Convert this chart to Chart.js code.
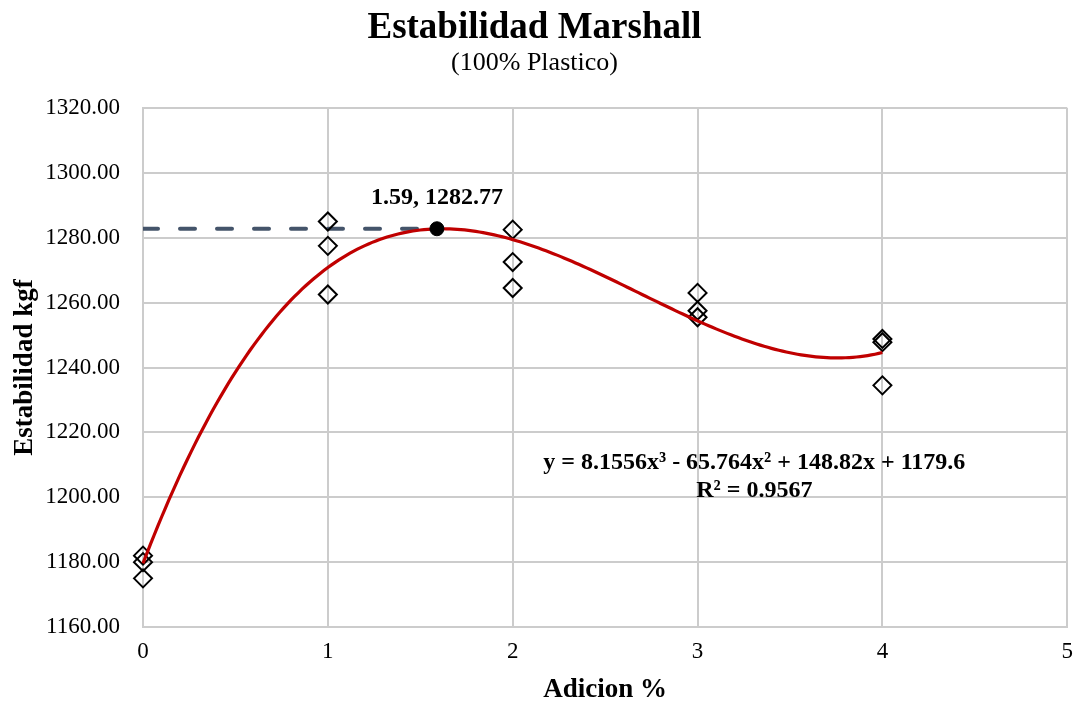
<!DOCTYPE html>
<html lang="es">
<head>
<meta charset="utf-8">
<title>Estabilidad Marshall</title>
<script src="https://cdn.jsdelivr.net/npm/chart.js@4.4.1/dist/chart.umd.min.js"></script>
<style>
  html, body { margin: 0; padding: 0; background: #ffffff; }
  #grafico { display: block; }
</style>
</head>
<body>
<canvas id="grafico" width="1084" height="704"></canvas>
<script>
// Ensayo Marshall: estabilidad medida por briqueta segun % de adicion
const adicion = [0, 0, 0, 1, 1, 1, 2, 2, 2, 3, 3, 3, 4, 4, 4];
const estabilidad = [1182.0, 1180.0, 1175.0, 1285.0, 1277.5, 1262.5, 1282.5, 1272.5, 1264.5, 1263.0, 1257.5, 1255.5, 1248.8, 1247.8, 1234.5];

// Linea de tendencia polinomica de grado 3 (coeficientes de x^3 a x^0)
const coeficientes = [8.1556, -65.764, 148.82, 1179.6];
const r2 = 0.9567;
const rangoTendencia = [0, 4];

// Punto optimo de la curva
const optimoX = [1.59];
const optimoY = [1282.77];

// Ejes
const xTicks = [0, 1, 2, 3, 4, 5];
const yTicks = [1160, 1180, 1200, 1220, 1240, 1260, 1280, 1300, 1320];

const serif = "'Liberation Serif', 'Times New Roman', Times, serif";

const puntos = adicion.map((x, i) => ({ x, y: estabilidad[i] }));

const polinomio = x => coeficientes.reduce((acc, c) => acc * x + c, 0);
const curva = [];
for (let k = 0; k <= 200; k++) {
  const x = rangoTendencia[0] + (rangoTendencia[1] - rangoTendencia[0]) * k / 200;
  curva.push({ x, y: polinomio(x) });
}

const guia = [{ x: xTicks[0], y: optimoY[0] }, { x: optimoX[0], y: optimoY[0] }];
const optimo = optimoX.map((x, i) => ({ x, y: optimoY[i] }));

const fmtEcuacion = () => {
  const f = (v) => Math.abs(v).toString();
  const s = (v) => (v < 0 ? ' - ' : ' + ');
  return 'y = ' + f(coeficientes[0]) + 'x\u00B3' + s(coeficientes[1]) + f(coeficientes[1]) + 'x\u00B2' +
    s(coeficientes[2]) + f(coeficientes[2]) + 'x' + s(coeficientes[3]) + f(coeficientes[3]);
};

// Rotulos: valor del punto optimo y ecuacion de la tendencia
const rotulos = {
  id: 'rotulos',
  afterDatasetsDraw(chart) {
    const { ctx, scales: { x, y } } = chart;
    ctx.save();
    ctx.fillStyle = '#000000';
    ctx.textAlign = 'center';
    ctx.textBaseline = 'middle';
    ctx.font = 'bold 24px ' + serif;
    optimoX.forEach((vx, i) => {
      const px = x.getPixelForValue(vx);
      const py = y.getPixelForValue(optimoY[i]);
      ctx.fillText(vx.toFixed(2) + ', ' + optimoY[i].toFixed(2), px, py - 31);
    });
    const cx = x.getPixelForValue(3.307);
    const cy = y.getPixelForValue(1210.5);
    ctx.fillText(fmtEcuacion(), cx, cy);
    ctx.fillText('R\u00B2 = ' + r2.toFixed(4), cx, cy + 28);
    ctx.restore();
  }
};

const fondo = {
  id: 'fondo',
  beforeDraw(chart) {
    const { ctx, width, height } = chart;
    ctx.save();
    ctx.fillStyle = '#ffffff';
    ctx.fillRect(0, 0, width, height);
    ctx.restore();
  }
};

new Chart(document.getElementById('grafico'), {
  type: 'scatter',
  data: {
    datasets: [
      {
        label: 'Optimo (guia)',
        data: guia,
        showLine: true,
        borderColor: '#44546A',
        borderWidth: 4,
        borderDash: [15, 22],
        borderCapStyle: 'round',
        pointRadius: 0,
        order: 4
      },
      {
        label: 'Estabilidad',
        data: puntos,
        pointStyle: 'rectRot',
        pointRadius: 9,
        pointHoverRadius: 9,
        borderColor: '#000000',
        backgroundColor: 'rgba(255,255,255,0)',
        borderWidth: 2,
        clip: false,
        order: 3
      },
      {
        label: 'Tendencia polinomica',
        data: curva,
        showLine: true,
        borderColor: '#C00000',
        borderWidth: 3.2,
        pointRadius: 0,
        tension: 0,
        clip: false,
        order: 2
      },
      {
        label: 'Optimo',
        data: optimo,
        pointRadius: 7,
        backgroundColor: '#000000',
        borderColor: '#000000',
        borderWidth: 1,
        order: 1
      }
    ]
  },
  options: {
    responsive: false,
    animation: false,
    devicePixelRatio: 1,
    layout: { padding: { top: 0, left: 0, right: 15, bottom: 0 } },
    plugins: {
      legend: { display: false },
      tooltip: { enabled: false },
      title: {
        display: true,
        text: 'Estabilidad Marshall',
        color: '#000000',
        font: { family: serif, size: 37, weight: 'bold', lineHeight: 1.1 },
        padding: { top: 8, bottom: 0 }
      },
      subtitle: {
        display: true,
        text: '(100% Plastico)',
        color: '#000000',
        font: { family: serif, size: 26, weight: 'normal', lineHeight: 1.0 },
        padding: { top: 1, bottom: 32.3 }
      }
    },
    scales: {
      x: {
        type: 'linear',
        min: xTicks[0],
        max: xTicks[xTicks.length - 1],
        afterBuildTicks: (s) => { s.ticks = xTicks.map(v => ({ value: v })); },
        afterFit: (s) => { s.height = 77; },
        ticks: {
          color: '#000000',
          font: { family: serif, size: 23, lineHeight: 1.2 },
          padding: 11,
          callback: (v) => String(v)
        },
        grid: { color: '#cccccc', lineWidth: 2, drawTicks: false },
        border: { color: '#cccccc', width: 2 },
        title: {
          display: true,
          text: 'Adicion %',
          color: '#000000',
          font: { family: serif, size: 27, weight: 'bold', lineHeight: 1.0 },
          padding: { top: 0, bottom: 0 }
        }
      },
      y: {
        type: 'linear',
        min: yTicks[0],
        max: yTicks[yTicks.length - 1],
        afterBuildTicks: (s) => { s.ticks = yTicks.map(v => ({ value: v })); },
        afterFit: (s) => { s.width = 143; },
        ticks: {
          color: '#000000',
          font: { family: serif, size: 23, lineHeight: 1.2 },
          padding: 23,
          callback: (v) => Number(v).toFixed(2)
        },
        grid: { color: '#cccccc', lineWidth: 2, drawTicks: false },
        border: { color: '#cccccc', width: 2 },
        title: {
          display: true,
          text: 'Estabilidad kgf',
          color: '#000000',
          font: { family: serif, size: 27, weight: 'bold', lineHeight: 1.2 },
          padding: { top: 9, bottom: 0 }
        }
      }
    }
  },
  plugins: [fondo, rotulos]
});
</script>
</body>
</html>
